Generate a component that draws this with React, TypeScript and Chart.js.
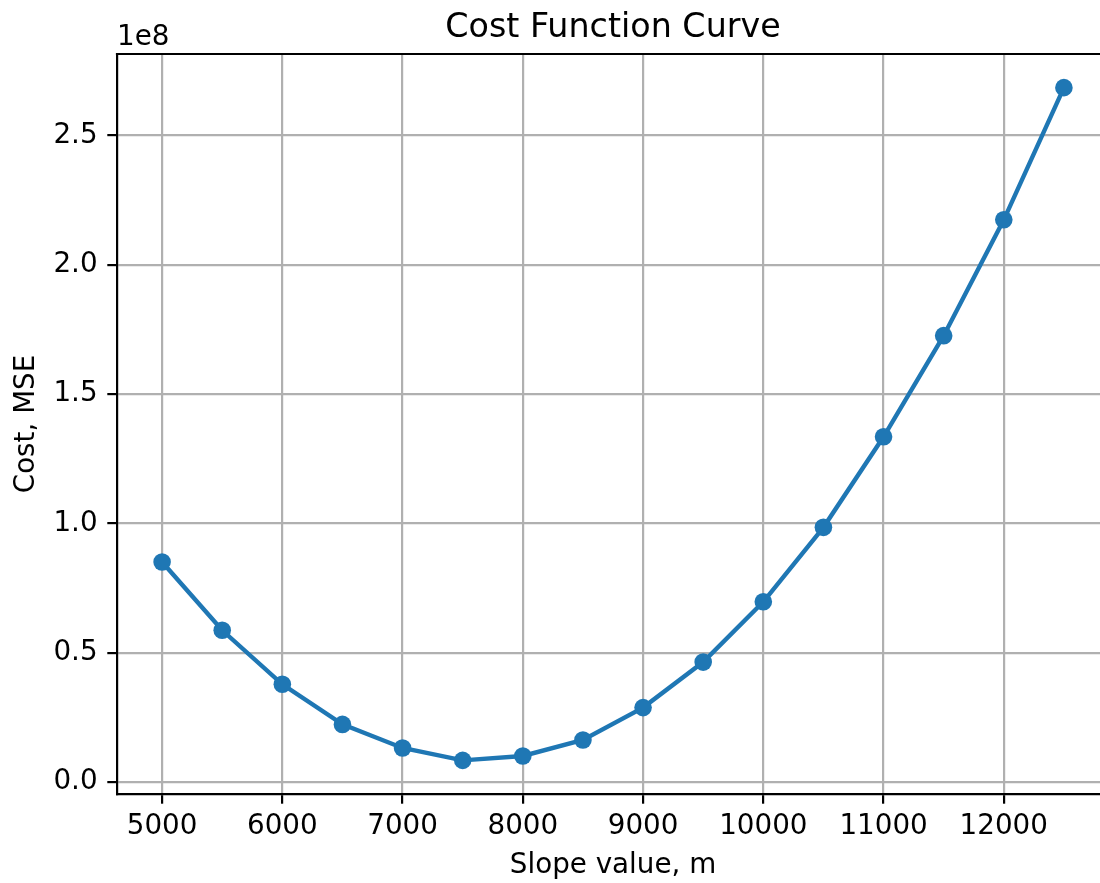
import React, { useEffect, useRef } from "react";
import { Chart, registerables } from "chart.js";

Chart.register(...registerables);

// Slope values tried and the resulting mean squared error
const slopes = [5000, 5500, 6000, 6500, 7000, 7500, 8000, 8500, 9000, 9500, 10000, 10500, 11000, 11500, 12000, 12500];
const costs = [
  85.1e6, 58.7e6, 37.8e6, 22.3e6, 13.2e6, 8.4e6, 10.1e6, 16.3e6,
  28.8e6, 46.4e6, 69.7e6, 98.5e6, 133.5e6, 172.6e6, 217.4e6, 268.5e6,
];

const xTicks = [5000, 6000, 7000, 8000, 9000, 10000, 11000, 12000];
const yTicks = [0, 0.5e8, 1.0e8, 1.5e8, 2.0e8, 2.5e8];

const titleText = "Cost Function Curve";
const xTitle = "Slope value, m";
const yTitle = "Cost, MSE";
const offsetText = "1e8";

const FONT = "'DejaVu Sans', sans-serif";
const TICK_SIZE = 27.78;
const TITLE_SIZE = 33.33;
const LINE_BLUE = "#1f77b4";

const CANVAS_W = 1100;
const CANVAS_H = 883;
const AREA_LEFT = 117;
const AREA_TOP = 54;
const AREA_BOTTOM = 794;
// the full axes box would reach x = 1109; the canvas stops at 1100
const AREA_FULL_RIGHT = 1109;

function padRange(vals: number[]): [number, number] {
  const lo = Math.min(...vals);
  const hi = Math.max(...vals);
  const m = (hi - lo) * 0.05;
  return [lo - m, hi + m];
}

const frameAndText = {
  id: "frameAndText",
  beforeDraw(chart: any) {
    const { ctx } = chart;
    ctx.save();
    ctx.fillStyle = "#ffffff";
    ctx.fillRect(0, 0, chart.width, chart.height);
    ctx.restore();
  },
  afterDraw(chart: any) {
    const { ctx, chartArea: a } = chart;
    ctx.save();
    // top spine
    ctx.strokeStyle = "#000000";
    ctx.lineWidth = 2.2;
    ctx.lineCap = "square";
    ctx.beginPath();
    ctx.moveTo(a.left, a.top);
    ctx.lineTo(chart.width + 2, a.top);
    ctx.stroke();

    const cx = (a.left + AREA_FULL_RIGHT) / 2;
    ctx.fillStyle = "#000000";
    // title
    ctx.font = `${TITLE_SIZE}px ${FONT}`;
    ctx.textAlign = "center";
    ctx.textBaseline = "alphabetic";
    ctx.fillText(titleText, cx, a.top - 16.7);

    // axis titles
    ctx.font = `${TICK_SIZE}px ${FONT}`;
    ctx.fillText(xTitle, cx, 873);

    ctx.save();
    ctx.translate(33.6, (a.top + a.bottom) / 2);
    ctx.rotate(-Math.PI / 2);
    ctx.fillText(yTitle, 0, 0);
    ctx.restore();

    // scale multiplier above the y axis
    ctx.textAlign = "left";
    ctx.fillText(offsetText, a.left, 45);
    ctx.restore();
  },
};

export default function App() {
  const ref = useRef<HTMLCanvasElement | null>(null);

  useEffect(() => {
    if (!ref.current) return;
    const [xMin, xMaxFull] = padRange(slopes);
    // visible part of the x range, cut where the canvas ends
    const xMax =
      xMin + ((xMaxFull - xMin) * (CANVAS_W - AREA_LEFT)) / (AREA_FULL_RIGHT - AREA_LEFT);
    const [yMin, yMax] = padRange(costs);

    const chart = new Chart(ref.current, {
      type: "line",
      data: {
        datasets: [
          {
            data: slopes.map((s, i) => ({ x: s, y: costs[i] })),
            borderColor: LINE_BLUE,
            backgroundColor: LINE_BLUE,
            borderWidth: 4.4,
            pointRadius: 8.8,
            pointBorderWidth: 0,
            pointBackgroundColor: LINE_BLUE,
            tension: 0,
            fill: false,
            clip: false,
          },
        ],
      },
      options: {
        responsive: false,
        animation: false,
        events: [],
        layout: {
          autoPadding: false,
          padding: { top: AREA_TOP, left: 0, right: 0, bottom: 0 },
        },
        plugins: {
          legend: { display: false },
          title: { display: false },
          tooltip: { enabled: false },
        },
        scales: {
          x: {
            type: "linear",
            min: xMin,
            max: xMax,
            afterFit(s: any) {
              s.height = CANVAS_H - AREA_BOTTOM;
              s.paddingLeft = 0;
              s.paddingRight = 0;
            },
            afterBuildTicks(s: any) {
              s.ticks = xTicks.map((v) => ({ value: v }));
            },
            ticks: {
              autoSkip: false,
              maxRotation: 0,
              padding: 6,
              color: "#000000",
              font: { family: FONT, size: TICK_SIZE },
              callback: (v: any) => String(v),
            },
            grid: {
              color: "#b0b0b0",
              lineWidth: 2.2,
              tickColor: "#000000",
              tickWidth: 2.2,
              tickLength: 9.7,
            },
            border: { color: "#000000", width: 2.2 },
          },
          y: {
            type: "linear",
            min: yMin,
            max: yMax,
            afterFit(s: any) {
              s.width = AREA_LEFT;
              s.paddingTop = 0;
              s.paddingBottom = 0;
            },
            afterBuildTicks(s: any) {
              s.ticks = yTicks.map((v) => ({ value: v }));
            },
            ticks: {
              autoSkip: false,
              padding: 9.7,
              color: "#000000",
              font: { family: FONT, size: TICK_SIZE },
              callback: (v: any) => (Number(v) / 1e8).toFixed(1),
            },
            grid: {
              color: "#b0b0b0",
              lineWidth: 2.2,
              tickColor: "#000000",
              tickWidth: 2.2,
              tickLength: 9.7,
            },
            border: { color: "#000000", width: 2.2 },
          },
        },
      },
      plugins: [frameAndText],
    });
    return () => chart.destroy();
  }, []);

  return (
    <div
      style={{
        position: "fixed",
        left: 0,
        top: 0,
        width: CANVAS_W,
        height: CANVAS_H,
        overflow: "hidden",
        background: "#ffffff",
      }}
    >
      <canvas ref={ref} width={CANVAS_W} height={CANVAS_H} style={{ display: "block" }} />
    </div>
  );
}
